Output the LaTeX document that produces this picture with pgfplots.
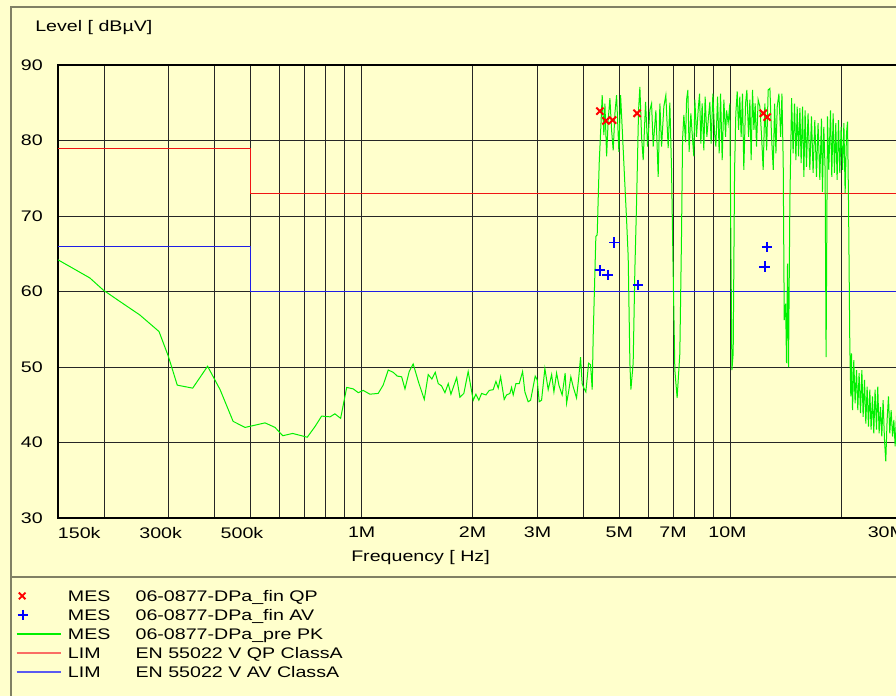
\documentclass[border=0pt]{standalone}
\usepackage{fontspec}
\setmainfont[FakeStretch=1.28]{Liberation Sans}
\usepackage{pgfplots}
\usepackage{pgfplotstable}
\pgfplotsset{compat=1.18}
\definecolor{bgc}{RGB}{255,255,204}
\definecolor{framec}{RGB}{128,128,100}
\definecolor{pkgreen}{RGB}{0,240,0}
\definecolor{limred}{RGB}{240,20,20}
\definecolor{limblue}{RGB}{30,30,230}
\definecolor{legred}{RGB}{250,110,100}
\definecolor{legblue}{RGB}{90,90,240}
\newcommand{\cf}{\fontsize{11.5}{13.8}\selectfont}
\pgfplotsset{
  legx/.style={legend image code/.code={\draw[red, line width=1.4pt, mark=x, mark size=3.5pt] plot coordinates {(4.1pt,0pt)};}},
  legp/.style={legend image code/.code={\draw[blue, line width=1.4pt, mark=+, mark size=3.8pt] plot coordinates {(4.5pt,0pt)};}},
  leggreen/.style={legend image code/.code={\draw[pkgreen, line width=1pt] (0pt,0pt) -- (33pt,0pt);}},
  legred/.style={legend image code/.code={\draw[legred, line width=1pt] (0pt,0pt) -- (33pt,0pt);}},
  legblue/.style={legend image code/.code={\draw[legblue, line width=1pt] (0pt,0pt) -- (33pt,0pt);}},
}

\pgfplotstableread{
f L
0.150 64.2
0.183 61.8
0.199 60.2
0.219 58.8
0.250 56.9
0.282 54.7
0.299 51.4
0.316 47.6
0.348 47.2
0.382 50.1
0.413 47.0
0.448 42.8
0.483 42.0
0.547 42.6
0.582 42.0
0.611 40.9
0.650 41.2
0.712 40.7
0.747 42.1
0.779 43.5
0.821 43.4
0.846 43.8
0.877 43.2
0.911 47.3
0.949 47.1
0.979 46.6
1.010 46.9
1.053 46.4
1.109 46.5
1.144 47.6
1.181 49.6
1.218 49.3
1.249 48.8
1.284 48.7
1.311 47.1
1.346 49.4
1.380 50.4
1.431 47.8
1.479 45.7
1.516 49.0
1.551 48.4
1.584 49.3
1.614 47.8
1.648 47.5
1.683 46.6
1.718 47.8
1.747 46.4
1.811 48.6
1.848 46.0
1.894 46.5
1.946 49.4
2.008 45.6
2.042 46.4
2.080 45.6
2.116 46.5
2.174 46.3
2.220 46.9
2.275 47.0
2.314 48.1
2.348 47.2
2.383 48.7
2.437 45.7
2.474 46.3
2.525 46.5
2.552 47.3
2.578 46.3
2.622 47.8
2.677 47.8
2.734 49.4
2.773 46.7
2.831 45.4
2.874 45.6
2.921 47.4
2.958 48.8
2.995 48.3
3.033 45.4
3.078 45.6
3.142 49.8
3.208 47.0
3.278 49.0
3.325 46.7
3.381 49.2
3.430 47.6
3.501 46.3
3.567 49.2
3.599 45.2
3.644 46.7
3.696 48.7
3.750 47.4
3.830 45.9
3.885 48.7
3.927 51.3
3.967 47.8
4.009 47.2
4.059 46.7
4.129 50.5
4.181 50.3
4.223 47.0
4.249 54.0
4.321 67.3
4.357 67.5
4.412 77.0
4.450 81.0
4.495 86.0
4.543 80.7
4.572 84.9
4.621 77.9
4.667 82.7
4.717 85.6
4.767 81.4
4.815 78.7
4.867 83.6
4.918 86.0
4.989 78.5
5.043 86.0
5.107 80.5
5.157 76.1
5.235 69.5
5.288 64.6
5.345 50.5
5.378 47.0
5.455 50.5
5.513 62.8
5.572 71.7
5.642 84.0
5.689 87.1
5.749 80.5
5.808 77.4
5.895 85.1
5.969 79.2
6.055 84.0
6.120 84.9
6.182 79.2
6.287 84.0
6.378 75.2
6.446 84.9
6.515 79.2
6.608 84.5
6.691 86.0
6.789 79.0
6.861 85.0
6.934 76.1
7.003 62.8
7.078 49.6
7.180 45.9
7.302 51.8
7.379 67.3
7.427 80.1
7.488 83.4
7.568 79.8
7.616 85.4
7.678 86.7
7.740 78.5
7.823 83.6
7.886 81.0
7.970 77.9
8.020 85.4
8.105 80.5
8.187 84.0
8.259 86.2
8.326 79.6
8.394 84.9
8.483 78.7
8.553 85.8
8.645 80.5
8.737 83.2
8.808 85.1
8.879 79.6
8.976 86.2
9.072 81.0
9.145 79.2
9.243 85.8
9.337 78.3
9.417 86.2
9.513 77.4
9.614 85.4
9.716 80.5
9.777 84.0
9.876 82.3
9.982 84.9
10.04 67.3
10.11 49.6
10.19 51.8
10.28 76.1
10.36 83.6
10.45 86.5
10.54 81.4
10.62 85.8
10.71 80.5
10.80 86.2
10.89 76.1
11.01 84.9
11.10 86.7
11.22 80.5
11.31 85.4
11.40 77.4
11.50 86.7
11.60 81.4
11.69 84.9
11.79 79.2
11.91 85.4
12.04 84.5
12.17 80.5
12.29 76.1
12.42 84.9
12.56 78.7
12.68 86.7
12.82 86.9
12.95 80.5
13.09 76.1
13.20 84.9
13.31 78.3
13.42 84.5
13.56 86.2
13.71 80.5
13.82 86.2
13.93 77.0
14.02 56.2
14.14 58.4
14.22 50.5
14.31 63.7
14.40 50.0
14.52 71.7
14.68 85.6
14.82 78.3
14.95 84.9
15.08 77.4
15.20 84.5
15.33 77.9
15.46 84.3
15.58 77.0
15.72 84.5
15.85 75.2
15.97 84.0
16.11 76.5
16.27 83.6
16.45 76.1
16.62 83.2
16.79 75.7
16.97 82.7
17.15 75.2
17.32 82.3
17.51 74.8
17.69 82.9
17.80 73.2
17.95 81.8
18.10 76.1
18.21 51.3
18.37 83.2
18.52 76.1
18.72 84.0
18.87 75.2
19.03 83.6
19.19 75.7
19.35 82.3
19.51 74.8
19.68 82.7
19.84 75.7
20.00 81.8
20.18 76.1
20.35 82.3
20.51 73.0
20.69 81.0
20.82 82.5
20.95 71.7
21.12 52.7
21.25 46.1
21.34 51.8
21.48 44.3
21.65 50.9
21.83 45.2
22.02 49.6
22.20 44.3
22.38 49.2
22.58 43.9
22.77 49.6
22.95 43.4
23.15 48.3
23.34 42.5
23.53 47.4
23.73 42.1
23.93 47.0
24.12 41.7
24.33 46.1
24.53 41.2
24.73 47.0
24.95 41.7
25.15 47.4
25.36 41.2
25.58 44.7
25.79 40.8
26.00 45.6
26.23 40.3
26.44 37.5
26.66 43.0
26.89 46.1
27.11 41.2
27.34 44.3
27.58 40.8
27.81 43.0
28.03 39.5
28.30 44.0
28.60 40.5
29.00 43.2
29.50 40.0
30.00 42.0
}\pkdata

\begin{document}
\begin{tikzpicture}
\fill[bgc] (0,0) rectangle (672pt,-522pt);
\draw[framec, line width=1.1pt] (8.25pt,-522pt) -- (8.25pt,-5.25pt) -- (672pt,-5.25pt);
\draw[framec, line width=1.1pt] (8.25pt,-432.75pt) -- (672pt,-432.75pt);
\begin{axis}[
  at={(43.5pt,-388.5pt)}, anchor=south west,
  scale only axis, width=636pt, height=339.75pt,
  xmode=log, xmin=0.15, xmax=30, ymin=30, ymax=90,
  ytick={30,40,50,60,70,80,90},
  xtick={0.15,0.3,0.5,1,2,3,5,7,10,30},
  xticklabels={\hphantom{150k}150k, 300k\hspace*{12.4pt}, 500k\hspace*{13pt}, 1M, 2M, 3M, 5M, 7M, 10M\hspace*{4pt}, 30M\hphantom{30M}},
  minor xtick={0.2,0.3,0.4,0.5,0.6,0.7,0.8,0.9,1,2,3,4,5,6,7,8,9,10,20},
  xmajorgrids=false, xminorgrids=true, ymajorgrids=true,
  major tick length=0pt, minor tick length=0pt,
  grid style={black!85, line width=0.75pt},
  minor grid style={black!85, line width=0.75pt},
  axis line style={black, line width=1.5pt},
  tick label style={font=\cf},
  /pgf/number format/assume math mode=true,
  yticklabel style={anchor=east, inner sep=0pt, xshift=-11.25pt},
  xticklabel style={anchor=north, inner sep=0pt, yshift=-6.75pt},
  title={Level [ dBµV]},
  title style={font=\cf, at={(axis description cs:-0.0271,1.0574)}, anchor=base west, inner sep=0pt},
  xlabel={Frequency [ Hz]},
  xlabel style={font=\cf, at={(axis description cs:0.3455,-0.0965)}, anchor=base west, inner sep=0pt},
  legend cell align=left,
  legend style={at={(axis description cs:-0.04953,-0.1594)}, anchor=north west,
    draw=none, fill=none, inner sep=0pt, outer sep=0pt, font=\cf,
    row sep=5.65pt, column sep=5pt,
    nodes={inner sep=0pt, text height=8.6pt, text depth=0pt}},
]
\addlegendimage{legx}
\addlegendentry{\makebox[50.7pt][l]{MES}06-0877-DPa\_fin QP}
\addlegendimage{legp}
\addlegendentry{\makebox[50.7pt][l]{MES}06-0877-DPa\_fin AV}
\addlegendimage{leggreen}
\addlegendentry{\makebox[50.7pt][l]{MES}06-0877-DPa\_pre PK}
\addlegendimage{legred}
\addlegendentry{\makebox[50.7pt][l]{LIM}EN 55022 V QP ClassA}
\addlegendimage{legblue}
\addlegendentry{\makebox[50.7pt][l]{LIM}EN 55022 V AV ClassA}

\addplot[limred, line width=0.75pt, forget plot] coordinates {(0.15,79) (0.5,79) (0.5,73) (30,73)};
\addplot[limblue, line width=0.9pt, forget plot] coordinates {(0.15,66) (0.5,66) (0.5,60) (30,60)};
\addplot[pkgreen, line width=0.75pt, forget plot] table[x=f, y=L] {\pkdata};
\addplot[red, only marks, mark=x, mark size=3.8pt, line width=1.5pt, forget plot] coordinates {
(4.43,83.9) (4.60,82.6) (4.80,82.7) (5.59,83.6) (12.3,83.6) (12.6,83.1)};
\addplot[blue, only marks, mark=+, mark size=3.9pt, line width=1.4pt, forget plot] coordinates {
(4.43,62.8) (4.65,62.2) (4.85,66.5) (5.62,60.9) (12.4,63.3) (12.6,65.9)};
\end{axis}
\pgfresetboundingbox
\path[use as bounding box] (0,0) rectangle (672pt,-522pt);
\end{tikzpicture}
\end{document}
